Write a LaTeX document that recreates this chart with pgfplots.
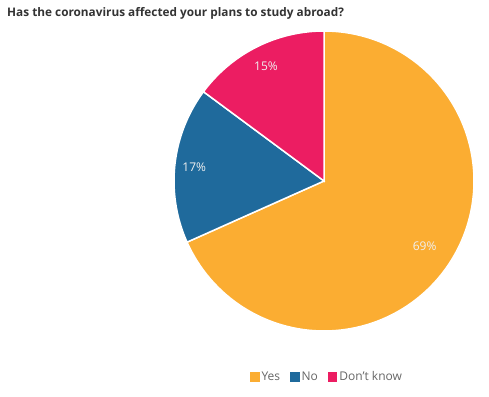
\documentclass[border=0pt]{standalone}
\usepackage{pgfplots}
\usepackage{pgfplotstable}
\pgfplotsset{compat=1.18}
\usepackage{fontspec}
\setmainfont{Open Sans}
\definecolor{cyes}{HTML}{FBAD32}
\definecolor{cno}{HTML}{1F6A9C}
\definecolor{cdk}{HTML}{EC1D62}
\definecolor{ctitle}{HTML}{333333}
\definecolor{clegend}{HTML}{666666}
\pgfplotstableread{
name value
Yes 69
No 17
Dontknow 15
}\piedata
\begin{document}%
\begin{tikzpicture}
\pgfplotstablegetelem{0}{value}\of\piedata\let\vA\pgfplotsretval
\pgfplotstablegetelem{1}{value}\of\piedata\let\vB\pgfplotsretval
\pgfplotstablegetelem{2}{value}\of\piedata\let\vC\pgfplotsretval
\pgfmathsetmacro\tot{\vA+\vB+\vC}
\pgfmathsetmacro\aA{90-(360/\tot)*\vA}
\pgfmathsetmacro\aB{\aA-(360/\tot)*\vB}
\pgfmathsetmacro\aC{-270}
\pgfmathsetmacro\mA{(90+\aA)/2}
\pgfmathsetmacro\mB{(\aA+\aB)/2}
\pgfmathsetmacro\mC{(\aB+\aC)/2}
\path[use as bounding box] (0,0) rectangle (489bp,397bp);
\node[anchor=base west, text=ctitle, font=\fontsize{11.8bp}{14bp}\selectfont\bfseries, inner sep=0pt] at (7bp,380bp) {Has the coronavirus affected your plans to study abroad?};
\begin{axis}[
  at={(324bp,216bp)}, anchor=center,
  width=300bp, height=300bp, scale only axis,
  xmin=-1, xmax=1, ymin=-1, ymax=1,
  hide axis, clip=false,
  legend style={draw=none, fill=none, at={(0.51,-0.153)}, anchor=center,
    legend columns=3, font=\fontsize{12bp}{14bp}\selectfont, text=clegend,
    /tikz/every even column/.append style={column sep=8bp},
    inner sep=0pt},
  legend cell align=left,
]
\addplot[fill=cyes, draw=white, line width=1.5bp, domain=\aA:90, samples=120,
  legend image code/.code={\fill[cyes] (0bp,-4bp) rectangle (8bp,4bp);}]
  ({cos(x)},{sin(x)}) -- (axis cs:0,0) -- cycle;
\addlegendentry{Yes}
\addplot[fill=cno, draw=white, line width=1.5bp, domain=\aB:\aA, samples=40,
  legend image code/.code={\fill[cno] (0bp,-4bp) rectangle (8bp,4bp);}]
  ({cos(x)},{sin(x)}) -- (axis cs:0,0) -- cycle;
\addlegendentry{No}
\addplot[fill=cdk, draw=white, line width=1.5bp, domain=\aC:\aB, samples=40,
  legend image code/.code={\fill[cdk] (0bp,-4bp) rectangle (8bp,4bp);}]
  ({cos(x)},{sin(x)}) -- (axis cs:0,0) -- cycle;
\addlegendentry{Don't know}
\node[text=white!94!black, font=\fontsize{12bp}{14bp}\selectfont] at (axis cs:{0.8*cos(\mA)},{0.8*sin(\mA)}) {\vA\%};
\node[text=white!94!black, font=\fontsize{12bp}{14bp}\selectfont] at (axis cs:{0.87*cos(\mB)},{0.87*sin(\mB)}) {\vB\%};
\node[text=white!94!black, font=\fontsize{12bp}{14bp}\selectfont] at (axis cs:{0.86*cos(\mC)},{0.86*sin(\mC)}) {\vC\%};
\end{axis}
\end{tikzpicture}%
\end{document}
